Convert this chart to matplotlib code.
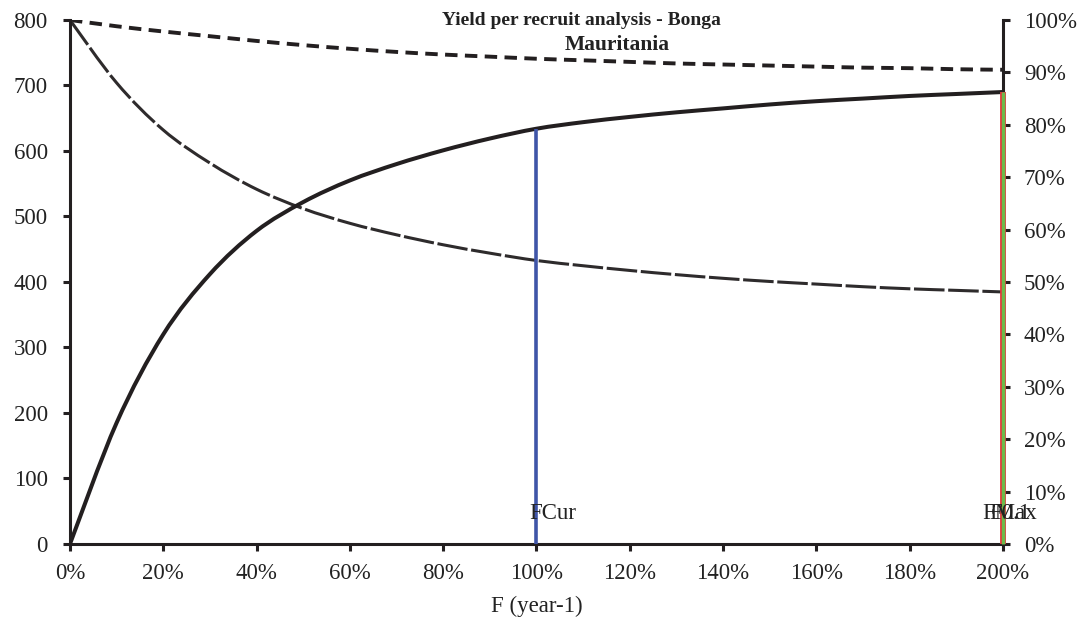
import matplotlib
matplotlib.use("Agg")
import numpy as np
import matplotlib.pyplot as plt
from matplotlib.path import Path
from matplotlib.patches import PathPatch
from matplotlib.ticker import PercentFormatter, MultipleLocator

# Fishing mortality multiplier (fraction of current F)
f_mult = [0.0, 0.1, 0.2, 0.3, 0.4, 0.5, 0.6, 0.7, 0.8, 0.9, 1.0,
          1.1, 1.2, 1.3, 1.4, 1.5, 1.6, 1.7, 1.8, 1.9, 2.0]

# Yield per recruit (left axis)
ypr = [0, 185, 320, 412, 478, 522, 555, 580, 601, 619, 634,
       644, 652, 659, 665, 671, 676, 680, 684, 687, 690]

# Relative biomass per recruit (right axis, fraction)
bpr_rel = [1.000, 0.880, 0.790, 0.727, 0.677, 0.640, 0.612, 0.590, 0.571, 0.555, 0.541,
           0.531, 0.522, 0.514, 0.507, 0.501, 0.496, 0.491, 0.487, 0.484, 0.481]

# Relative spawning biomass ratio (right axis, fraction)
ssb_rel = [1.000, 0.988, 0.978, 0.969, 0.960, 0.952, 0.945, 0.939, 0.934, 0.930, 0.926,
           0.923, 0.920, 0.917, 0.915, 0.913, 0.911, 0.909, 0.908, 0.906, 0.905]

# Reference points
ref_names = ["FCur", "FMax", "F0.1"]
ref_f = [1.00, 2.00, 2.00]
ref_ypr = [634, 690, 690]

serif = ["Liberation Serif", "DejaVu Serif"]
plt.rcParams["font.family"] = serif


def smooth_line(ax, x, y, **kw):
    """Draw a smoothed (Catmull-Rom / Bezier) line through the given points."""
    pts = np.column_stack([x, y]).astype(float)
    n = len(pts)
    verts = [pts[0]]
    codes = [Path.MOVETO]
    for i in range(n - 1):
        p0 = pts[i - 1] if i > 0 else pts[i]
        p1 = pts[i]
        p2 = pts[i + 1]
        p3 = pts[i + 2] if i + 2 < n else pts[i + 1]
        verts += [p1 + (p2 - p0) / 6.0, p2 - (p3 - p1) / 6.0, p2]
        codes += [Path.CURVE4] * 3
    patch = PathPatch(Path(verts, codes), fill=False, transform=ax.transData,
                      capstyle="butt", joinstyle="round", **kw)
    ax.add_patch(patch)
    return patch


fig = plt.figure(figsize=(10.88, 6.24), dpi=100)
ax = fig.add_axes([0.0643, 0.1282, 0.8576, 0.8398])
ax2 = ax.twinx()
ax.set_zorder(ax2.get_zorder() + 1)
ax.patch.set_visible(False)

ink = "#231f20"

ax.set_xlim(0, 2.0)
ax.set_ylim(0, 800)
ax2.set_ylim(0, 1.0)

# Right-axis curves
smooth_line(ax2, f_mult, ssb_rel, edgecolor=ink, lw=2.8, linestyle=(0, (3.2, 1.9)), zorder=2)
smooth_line(ax2, f_mult, bpr_rel, edgecolor="#2e2b2c", lw=2.2, linestyle=(0, (10, 1.2)), zorder=2)

# Yield per recruit curve
smooth_line(ax, f_mult, ypr, edgecolor=ink, lw=2.9, zorder=3)

# Reference point lines
ax.vlines(ref_f[0], 0, ref_ypr[0], color="#3f55a8", lw=2.6, zorder=4, clip_on=False)
ax.vlines(ref_f[1], 0, ref_ypr[1], color="#e03a3c", lw=4.2, zorder=4, clip_on=False)
ax.vlines(ref_f[2], 0, ref_ypr[2], color="#6cbb4a", lw=2.4, zorder=5, clip_on=False)

label_offsets = [12, 5, 5]
for name, fx, dx in zip(ref_names, ref_f, label_offsets):
    ax.annotate(name, xy=(fx, 0), xytext=(dx, 22), textcoords="offset points",
                ha="center", va="center", fontsize=16.5, color="#222222", zorder=6)

# Axes, ticks, spines
ax.xaxis.set_major_locator(MultipleLocator(0.2))
ax.xaxis.set_major_formatter(PercentFormatter(1.0, decimals=0))
ax.yaxis.set_major_locator(MultipleLocator(100))
ax2.yaxis.set_major_locator(MultipleLocator(0.1))
ax2.yaxis.set_major_formatter(PercentFormatter(1.0, decimals=0))

for a in (ax, ax2):
    a.spines["top"].set_visible(False)
    for s in ("left", "right", "bottom"):
        a.spines[s].set_linewidth(2.2)
        a.spines[s].set_color(ink)
    a.tick_params(direction="out", length=5, width=2.2, color=ink,
                  labelsize=16.5, labelcolor="#222222")
ax.tick_params(axis="y", pad=11)
ax.tick_params(axis="x", pad=9)
ax2.tick_params(axis="y", pad=10)
ax.spines["right"].set_visible(False)
ax2.spines["left"].set_visible(False)
ax2.spines["bottom"].set_visible(False)

ax.set_xlabel("F (year-1)", fontsize=16.5, color="#222222", labelpad=8)

fig.text(0.534, 0.967, "Yield per recruit analysis - Bonga", ha="center", va="center",
         fontsize=14, fontweight="bold", color="#222222")
fig.text(0.567, 0.928, "Mauritania", ha="center", va="center",
         fontsize=15.5, fontweight="bold", color="#222222")

fig.savefig("out.png", dpi=100)
